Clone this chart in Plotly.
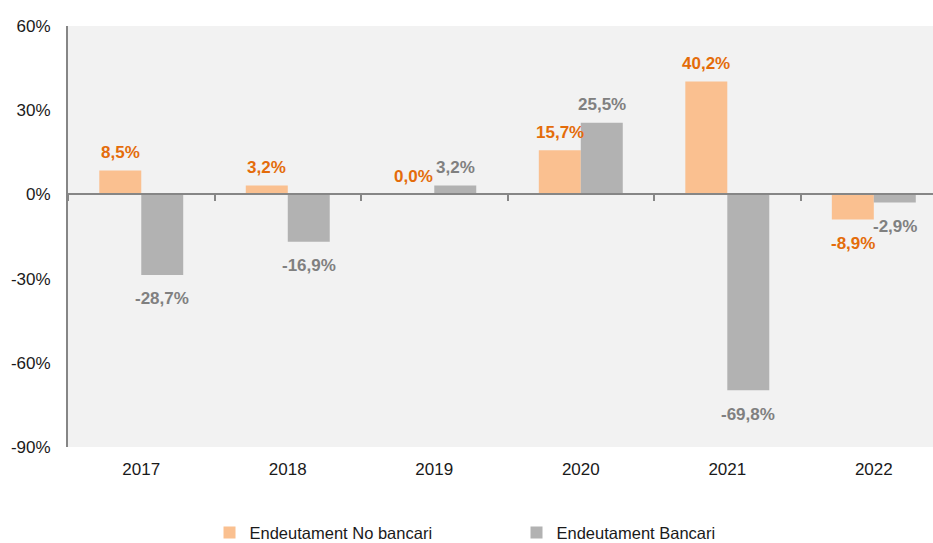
import plotly.graph_objects as go

years = ["2017", "2018", "2019", "2020", "2021", "2022"]
no_bancari = [8.5, 3.2, 0.0, 15.7, 40.2, -8.9]
bancari = [-28.7, -16.9, 3.2, 25.5, -69.8, -2.9]
series_names = ["Endeutament No bancari", "Endeutament Bancari"]
y_ticks = [60, 30, 0, -30, -60, -90]

bar_colors = ["#FAC090", "#B2B2B2"]
label_colors = ["#E46C0A", "#808080"]

W, H = 933, 543
ml, mr, mt, mb = 68, 0, 26, 96
bargap = 0.427
x_range = [-0.5, 5.404]
y_range = [-90, 60]

def fmt(v):
    return f"{v:.1f}".replace(".", ",") + "%"

fig = go.Figure()
for name, vals, col in zip(series_names, [no_bancari, bancari], bar_colors):
    fig.add_trace(go.Bar(x=years, y=vals, name=name, marker=dict(color=col, line=dict(width=0))))

# invisible trace to anchor the zero-line axis
fig.add_trace(go.Scatter(x=years, y=[0]*len(years), xaxis="x2", mode="none",
                         showlegend=False, hoverinfo="skip"))

bar_off = (1 - bargap) / 4  # centre offset of each bar within its group (category units)
annotations = []
for i, (vals, col) in enumerate(zip([no_bancari, bancari], label_colors)):
    sign = -1 if i == 0 else 1
    for k, v in enumerate(vals):
        annotations.append(dict(
            x=k + sign * bar_off, y=v, xref="x", yref="y", text=fmt(v), showarrow=False,
            yshift=(18 if v >= 0 else -24),
            font=dict(family="Liberation Sans, Arial, sans-serif", size=17, color=col, weight="bold"),
        ))

zero_frac = (0 - y_range[0]) / (y_range[1] - y_range[0])

fig.update_layout(
    width=W, height=H,
    margin=dict(l=ml, r=mr, t=mt, b=mb, autoexpand=False),
    paper_bgcolor="white", plot_bgcolor="#F2F2F2",
    barmode="group", bargap=bargap, bargroupgap=0,
    font=dict(family="Liberation Sans, Arial, sans-serif", size=17, color="#1a1a1a"),
    annotations=annotations,
    showlegend=True,
    legend=dict(orientation="h", x=0.1636, xanchor="left", y=-0.204, yanchor="middle",
                font=dict(size=16.5, color="#1a1a1a"), itemwidth=30,
                entrywidth=262, entrywidthmode="pixels", bgcolor="rgba(0,0,0,0)"),
    xaxis=dict(range=x_range, type="category", showgrid=False, zeroline=False,
               showline=False, ticks="", ticklabelstandoff=10, automargin=False,
               tickfont=dict(size=17, color="#1a1a1a")),
    xaxis2=dict(overlaying="x", anchor="free", position=zero_frac, range=x_range,
                type="category", showgrid=False, zeroline=False, automargin=False,
                showline=True, linecolor="#868686", linewidth=2,
                ticks="outside", tickson="boundaries", ticklen=6, tickwidth=1.5,
                tickcolor="#868686", showticklabels=False),
    yaxis=dict(range=y_range, tickvals=y_ticks, ticktext=[f"{t}%" for t in y_ticks],
               showgrid=False, zeroline=False, showline=True, linecolor="#868686",
               linewidth=2, ticks="", ticklabelstandoff=12, automargin=False,
               tickfont=dict(size=17, color="#1a1a1a")),
)

fig.write_html("out.html", config={"displayModeBar": False},
               post_script="document.body.style.margin='0';document.body.style.padding='0';")
